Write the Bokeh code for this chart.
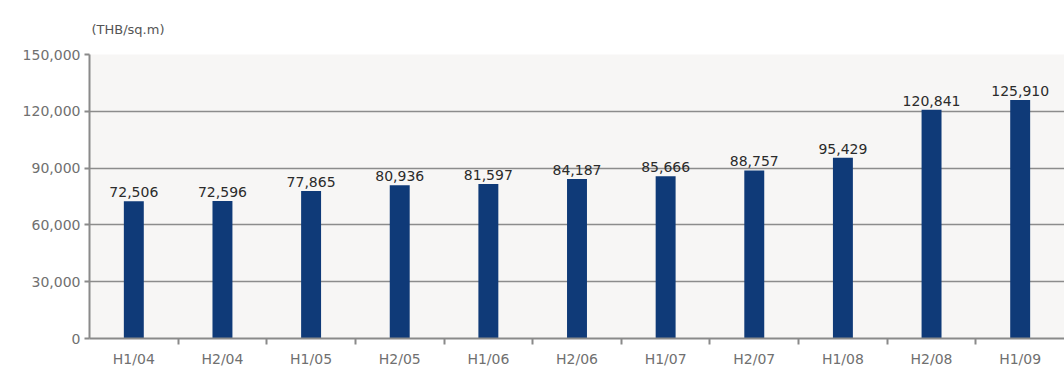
from bokeh.plotting import figure
from bokeh.models import (ColumnDataSource, FixedTicker, NumeralTickFormatter,
                          LabelSet, Range1d)
from bokeh.core.properties import value
from bokeh.embed import file_html
from bokeh.resources import INLINE

# Average condominium price per half-year period
periods = ["H1/04", "H2/04", "H1/05", "H2/05", "H1/06", "H2/06",
           "H1/07", "H2/07", "H1/08", "H2/08", "H1/09"]
prices = [72506, 72596, 77865, 80936, 81597, 84187,
          85666, 88757, 95429, 120841, 125910]
y_ticks = [0, 30000, 60000, 90000, 120000, 150000]
unit_label = "(THB/sq.m)"

FONT = "DejaVu Sans"

centers = [i + 0.5 for i in range(len(periods))]
bounds = [i for i in range(1, len(periods))]

src = ColumnDataSource(dict(
    x=centers,
    price=prices,
    label=[f"{v:,}" for v in prices],
))

p = figure(width=1064, height=372, output_backend="svg", toolbar_location=None,
           x_range=Range1d(0, len(periods)), y_range=Range1d(0, 150000),
           min_border_left=89, min_border_right=0, min_border_top=54,
           min_border_bottom=34, title=unit_label)

p.background_fill_color = "#f7f6f5"
p.border_fill_color = "white"
p.outline_line_color = None

p.title.text_font = FONT
p.title.text_font_size = "13px"
p.title.text_font_style = "normal"
p.title.text_color = "#555555"
p.title.align = "left"
p.title.offset = 2
p.title.standoff = 35

p.vbar(x="x", top="price", width=0.225, source=src,
       fill_color="#0f3a78", line_color=None)

p.add_layout(LabelSet(x="x", y="price", text="label", source=src,
                      text_align="center", text_baseline="bottom", y_offset=4,
                      text_font=value(FONT), text_font_size=value("14px"),
                      text_color="#2b2b2b"))

# y axis
ya = p.yaxis[0]
ya.ticker = FixedTicker(ticks=y_ticks)
ya.formatter = NumeralTickFormatter(format="0,0")
ya.axis_line_color = "#8a8a8a"
ya.axis_line_width = 2
ya.major_tick_line_color = "#8a8a8a"
ya.major_tick_line_width = 2
ya.major_tick_out = 5
ya.major_tick_in = 0
ya.minor_tick_line_color = None
ya.major_label_text_font = FONT
ya.major_label_text_font_size = "14px"
ya.major_label_text_color = "#707070"
ya.major_label_standoff = 4

# x axis: labels at period centres, tick marks between periods
xa = p.xaxis[0]
xa.ticker = FixedTicker(ticks=centers, minor_ticks=bounds)
xa.major_label_overrides = {c: lab for c, lab in zip(centers, periods)}
xa.axis_line_color = "#8a8a8a"
xa.axis_line_width = 2
xa.major_tick_line_color = None
xa.minor_tick_line_color = "#8a8a8a"
xa.minor_tick_line_width = 2
xa.minor_tick_out = 6
xa.minor_tick_in = 0
xa.major_label_text_font = FONT
xa.major_label_text_font_size = "14px"
xa.major_label_text_color = "#707070"
xa.major_label_standoff = 6

p.xgrid.grid_line_color = None
p.ygrid.ticker = FixedTicker(ticks=y_ticks)
p.ygrid.grid_line_color = "#8c8c8c"
p.ygrid.grid_line_width = 1.5

open("out.html", "w").write(file_html(p, INLINE))
